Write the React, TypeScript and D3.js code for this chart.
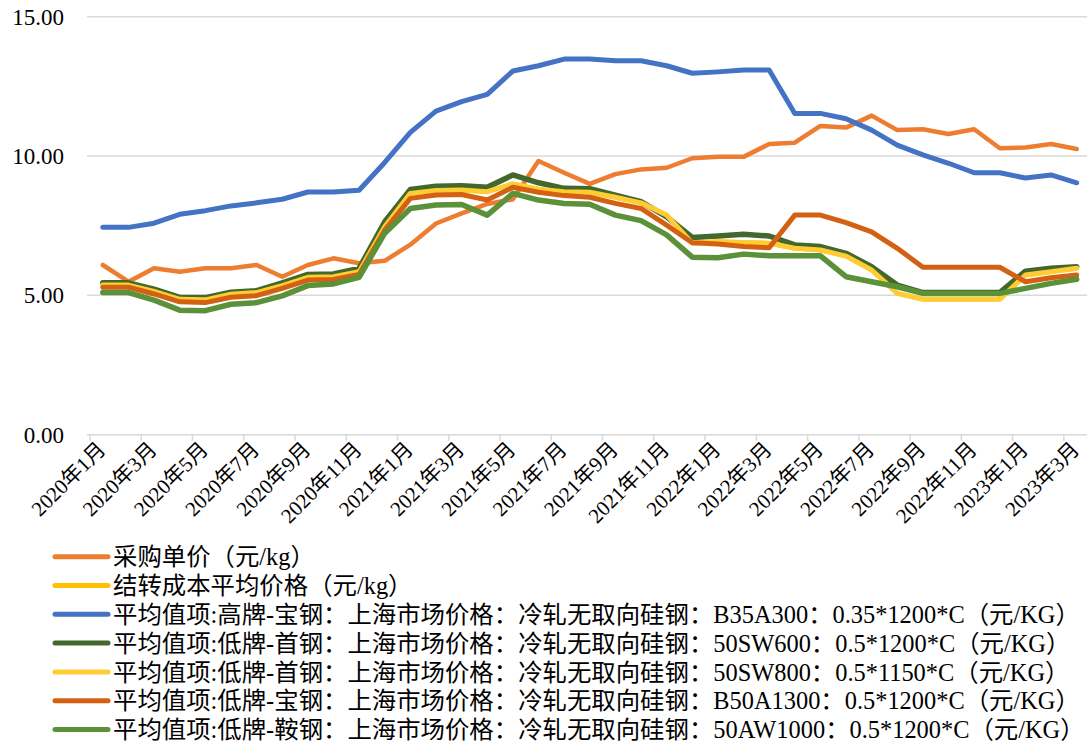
import * as d3 from 'd3';

const WIDTH = 1087;
const HEIGHT = 746;

// categories: 2020-01 .. 2023-03
const months: string[] = [];
for (let y = 2020; y <= 2023; y++) {
  for (let m = 1; m <= 12; m++) {
    if (y === 2023 && m > 3) break;
    months.push(`${y}年${m}月`);
  }
}

const yTicks = [0, 5, 10, 15];

const purchasePrice = [
  6.09, 5.49, 5.97, 5.85, 5.97, 5.97, 6.09, 5.67, 6.09, 6.33, 6.15, 6.24,
  6.82, 7.58, 7.94, 8.28, 8.45, 9.82, 9.40, 9.00, 9.35, 9.52, 9.58, 9.92,
  9.97, 9.97, 10.43, 10.48, 11.08, 11.02, 11.45, 10.93, 10.96, 10.79, 10.96, 10.28,
  10.31, 10.43, 10.25,
];

const carryCost = [
  5.37, 5.37, 5.14, 4.86, 4.84, 5.04, 5.10, 5.35, 5.65, 5.67, 5.85, 7.46,
  8.66, 8.76, 8.78, 8.72, 9.00, 8.81, 8.72, 8.70, 8.52, 8.32, 7.88, 6.88,
  6.92, 6.90, 6.87, 6.69, 6.63, 6.41, 5.91, 5.07, 4.86, 4.86, 4.86, 4.86,
  5.73, 5.85, 5.97,
];

const baoB35A300 = [
  7.44, 7.44, 7.59, 7.91, 8.04, 8.21, 8.32, 8.45, 8.71, 8.71, 8.77, 9.77,
  10.85, 11.61, 11.95, 12.21, 13.05, 13.24, 13.48, 13.48, 13.42, 13.42, 13.24, 12.97,
  13.02, 13.09, 13.09, 11.53, 11.53, 11.34, 10.93, 10.39, 10.04, 9.74, 9.40, 9.40,
  9.21, 9.32, 9.04,
];

const shou50SW600 = [
  5.45, 5.45, 5.22, 4.93, 4.92, 5.11, 5.17, 5.45, 5.75, 5.77, 5.97, 7.64,
  8.80, 8.92, 8.93, 8.88, 9.32, 9.04, 8.84, 8.83, 8.60, 8.36, 7.82, 7.08,
  7.13, 7.19, 7.13, 6.81, 6.75, 6.51, 6.03, 5.37, 5.10, 5.10, 5.10, 5.10,
  5.87, 5.97, 6.03,
];

const shou50SW800 = [
  5.37, 5.37, 5.14, 4.86, 4.84, 5.04, 5.10, 5.35, 5.65, 5.67, 5.85, 7.46,
  8.66, 8.76, 8.78, 8.72, 9.00, 8.81, 8.72, 8.70, 8.52, 8.32, 7.88, 6.87,
  6.93, 6.90, 6.87, 6.69, 6.63, 6.41, 5.91, 5.07, 4.86, 4.86, 4.86, 4.86,
  5.73, 5.85, 5.97,
];

const baoB50A1300 = [
  5.29, 5.29, 5.05, 4.77, 4.74, 4.93, 4.99, 5.25, 5.55, 5.57, 5.75, 7.34,
  8.48, 8.60, 8.62, 8.42, 8.88, 8.70, 8.58, 8.52, 8.30, 8.12, 7.52, 6.89,
  6.84, 6.75, 6.71, 7.88, 7.88, 7.61, 7.28, 6.69, 6.01, 6.01, 6.01, 6.01,
  5.49, 5.63, 5.73,
];

const an50AW1000 = [
  5.10, 5.10, 4.83, 4.47, 4.45, 4.68, 4.74, 4.98, 5.35, 5.41, 5.65, 7.23,
  8.12, 8.24, 8.26, 7.88, 8.66, 8.42, 8.30, 8.27, 7.88, 7.68, 7.17, 6.37,
  6.35, 6.48, 6.42, 6.42, 6.42, 5.67, 5.49, 5.31, 5.07, 5.07, 5.07, 5.07,
  5.25, 5.43, 5.58,
];

const seriesNames = [
  '采购单价（元/kg）',
  '结转成本平均价格（元/kg）',
  '平均值项:高牌-宝钢：上海市场价格：冷轧无取向硅钢：B35A300：0.35*1200*C（元/KG）',
  '平均值项:低牌-首钢：上海市场价格：冷轧无取向硅钢：50SW600：0.5*1200*C（元/KG）',
  '平均值项:低牌-首钢：上海市场价格：冷轧无取向硅钢：50SW800：0.5*1150*C（元/KG）',
  '平均值项:低牌-宝钢：上海市场价格：冷轧无取向硅钢：B50A1300：0.5*1200*C（元/KG）',
  '平均值项:低牌-鞍钢：上海市场价格：冷轧无取向硅钢：50AW1000：0.5*1200*C（元/KG）',
];
const seriesValues = [purchasePrice, carryCost, baoB35A300, shou50SW600, shou50SW800, baoB50A1300, an50AW1000];
const COLOURS = ['#ED7D31', '#FFC000', '#4472C4', '#43682B', '#FFCD33', '#D46113', '#5B9138'];
const WIDTHS = [4.5, 4.5, 5, 5.5, 5, 5, 5.5];

const PLOT = { left: 90, right: 1089.5, top: 16.7, bottom: 434.7 };
const FONT = '"Liberation Serif", "Times New Roman", "Noto Sans CJK SC", serif';

export default function App() {
  const x = d3.scaleBand<string>().domain(months).range([PLOT.left, PLOT.right]).padding(0);
  const y = d3.scaleLinear().domain([0, 15]).range([PLOT.bottom, PLOT.top]);
  const cx = (i: number) => (x(months[i]) as number) + x.bandwidth() / 2;

  const line = d3.line<number>()
    .x((_, i) => cx(i))
    .y(d => y(d));

  const tickIdx = months.map((_, i) => i).filter(i => i % 2 === 0);

  return (
    <svg width={WIDTH} height={HEIGHT} style={{ position: 'absolute', left: 0, top: 0, background: '#fff' }}>
      {/* gridlines */}
      {yTicks.map(t => (
        <line key={t} x1={PLOT.left - 3} x2={WIDTH} y1={y(t)} y2={y(t)} stroke="#D9D9D9" strokeWidth={1.5} />
      ))}
      {/* x tick marks */}
      {tickIdx.map(i => (
        <line key={i} x1={x(months[i])} x2={x(months[i])} y1={PLOT.bottom} y2={PLOT.bottom + 6} stroke="#D9D9D9" strokeWidth={1.5} />
      ))}
      {/* y labels */}
      {yTicks.map(t => (
        <text key={t} x={64} y={y(t)} dy="0.35em" textAnchor="end" fontFamily={FONT} fontSize={23} fill="#000">
          {t.toFixed(2)}
        </text>
      ))}
      {/* x labels */}
      {tickIdx.map(i => {
        const tx = cx(i) + 4;
        const ty = PLOT.bottom + 16;
        return (
          <text key={i} x={tx} y={ty} textAnchor="end" fontFamily={FONT} fontSize={21}
            transform={`rotate(-45 ${tx} ${ty})`} fill="#000">
            {months[i]}
          </text>
        );
      })}
      {/* series */}
      {seriesValues.map((vals, s) => (
        <path key={s} d={line(vals) || ''} fill="none" stroke={COLOURS[s]} strokeWidth={WIDTHS[s]}
          strokeLinejoin="round" strokeLinecap="round" />
      ))}
      {/* legend */}
      {seriesNames.map((name, s) => {
        const ly = 556.7 + s * 28.8;
        return (
          <g key={s}>
            <line x1={55} x2={108} y1={ly} y2={ly} stroke={COLOURS[s]} strokeWidth={5} strokeLinecap="round" />
            <text x={113} y={ly} dy="0.36em" fontFamily={FONT} fontSize={24.4} fill="#000">{name}</text>
          </g>
        );
      })}
    </svg>
  );
}
